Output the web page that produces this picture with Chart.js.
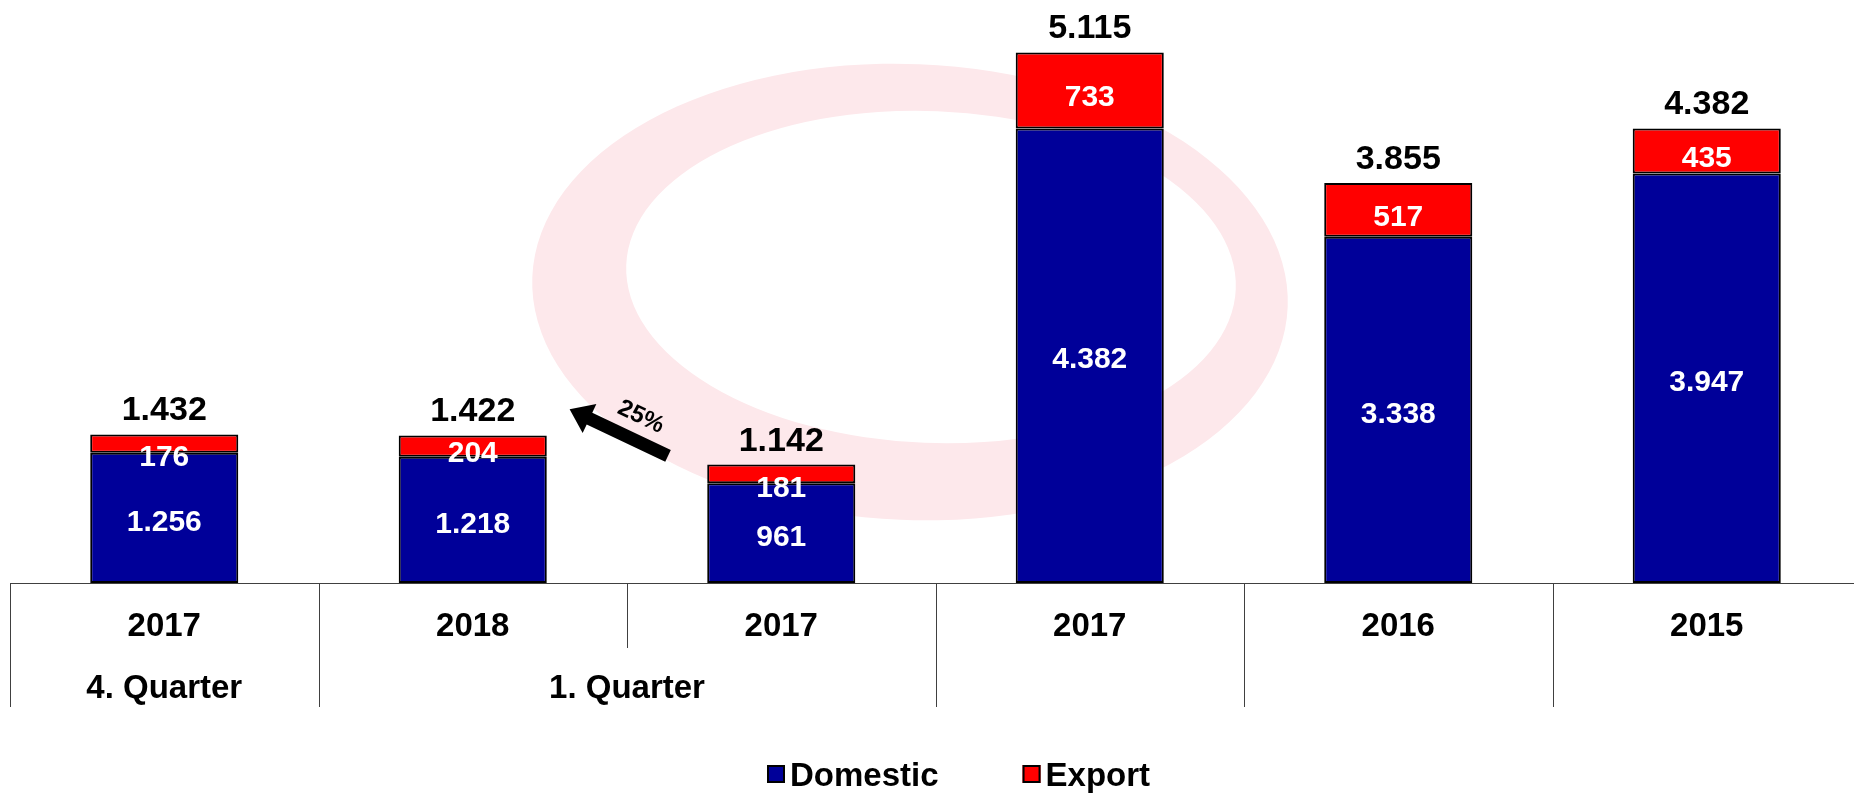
<!DOCTYPE html>
<html>
<head>
<meta charset="utf-8">
<script src="https://cdn.jsdelivr.net/npm/chart.js@4/dist/chart.umd.min.js"></script>
<style>
  html, body { margin: 0; padding: 0; background: #ffffff; overflow: hidden; }
  canvas { display: block; }
</style>
</head>
<body>
<canvas id="c" width="1862" height="793"></canvas>
<script>
// ---- data ----
const categories = ['2017', '2018', '2017', '2017', '2016', '2015'];
const quarterLabels = ['4. Quarter', '1. Quarter'];
const quarterFrom = [0, 1];
const quarterTo = [0, 2];
const domestic = [1256, 1218, 961, 4382, 3338, 3947];
const exportVals = [176, 204, 181, 733, 517, 435];
const seriesNames = ['Domestic', 'Export'];
const changeLabel = '25%';

const FONT = '"Liberation Sans", Arial, Helvetica, sans-serif';
const BLUE = '#000099';
const RED = '#ff0000';

function fmt(v) {
  return String(v).replace(/\B(?=(\d{3})+(?!\d))/g, '.');
}

const watermark = {
  id: 'watermark',
  beforeDatasetsDraw(chart) {
    const ctx = chart.ctx;
    ctx.save();
    ctx.fillStyle = '#fde8eb';
    ctx.beginPath();
    ctx.ellipse(910, 292, 378, 228, 0.04, 0, Math.PI * 2);
    ctx.ellipse(931, 277, 305, 166, 0.04, 0, Math.PI * 2);
    ctx.fill('evenodd');
    ctx.restore();
  }
};

const labels = {
  id: 'labels',
  afterDatasetsDraw(chart) {
    const ctx = chart.ctx;
    const ys = chart.scales.y;
    ctx.save();
    ctx.textAlign = 'center';
    ctx.textBaseline = 'alphabetic';
    const metaD = chart.getDatasetMeta(0);
    const metaE = chart.getDatasetMeta(1);
    // inner labels
    ctx.fillStyle = '#ffffff';
    ctx.font = 'bold 30px ' + FONT;
    const cap = 30 * 0.358;
    metaD.data.forEach((bar, i) => {
      const cy = (bar.y + bar.base) / 2 + 2;
      ctx.fillText(fmt(domestic[i]), bar.x, cy + cap);
    });
    metaE.data.forEach((bar, i) => {
      const h = bar.base - bar.y;
      const cy = (bar.y + bar.base) / 2 + (h < 20 ? 12 : 5);
      ctx.fillText(fmt(exportVals[i]), bar.x, cy + cap);
    });
    // totals
    ctx.fillStyle = '#000000';
    ctx.font = 'bold 34px ' + FONT;
    metaE.data.forEach((bar, i) => {
      const total = domestic[i] + exportVals[i];
      const top = ys.getPixelForValue(total);
      ctx.fillText(fmt(total), bar.x, top - 14);
    });
    ctx.restore();
  }
};

const table = {
  id: 'table',
  afterDraw(chart) {
    const ctx = chart.ctx;
    const area = chart.chartArea;
    const xs = chart.scales.x;
    const ys = chart.scales.y;
    const n = categories.length;
    const catW = (area.right - area.left) / n;
    const b = area.bottom;
    ctx.save();
    // axis line
    ctx.strokeStyle = '#404040';
    ctx.lineWidth = 1;
    ctx.beginPath();
    ctx.moveTo(area.left, b + 0.5);
    ctx.lineTo(chart.width, b + 0.5);
    ctx.stroke();
    // vertical separators
    for (let i = 0; i < n; i++) {
      const x = Math.round(area.left + i * catW) + 0.5;
      let inside = false;
      for (let g = 0; g < quarterLabels.length; g++) {
        if (i > quarterFrom[g] && i <= quarterTo[g]) inside = true;
      }
      ctx.beginPath();
      ctx.moveTo(x, b);
      ctx.lineTo(x, b + (inside ? 65 : 124));
      ctx.stroke();
    }
    // year row
    ctx.fillStyle = '#000000';
    ctx.textAlign = 'center';
    ctx.textBaseline = 'alphabetic';
    ctx.font = 'bold 33px ' + FONT;
    categories.forEach((c, i) => {
      ctx.fillText(c, xs.getPixelForValue(i), b + 53);
    });
    // quarter row
    quarterLabels.forEach((q, g) => {
      const x = (xs.getPixelForValue(quarterFrom[g]) + xs.getPixelForValue(quarterTo[g])) / 2;
      ctx.fillText(q, x, b + 115);
    });

    // change arrow between 1. Quarter 2018 and 2017
    const x1 = xs.getPixelForValue(1), x2 = xs.getPixelForValue(2);
    const tip = { x: x1 + (x2 - x1) * 0.314, y: ys.getPixelForValue(1676) };
    const tail = { x: x1 + (x2 - x1) * 0.633, y: ys.getPixelForValue(1226) };
    const ang = Math.atan2(tip.y - tail.y, tip.x - tail.x);
    const len = Math.hypot(tip.x - tail.x, tip.y - tail.y);
    ctx.save();
    ctx.translate(tail.x, tail.y);
    ctx.rotate(ang);
    const headL = 22, headW = 32, shaftW = 13;
    ctx.fillStyle = '#000000';
    ctx.beginPath();
    ctx.moveTo(0, -shaftW / 2);
    ctx.lineTo(len - headL, -shaftW / 2);
    ctx.lineTo(len - headL, -headW / 2);
    ctx.lineTo(len, 0);
    ctx.lineTo(len - headL, headW / 2);
    ctx.lineTo(len - headL, shaftW / 2);
    ctx.lineTo(0, shaftW / 2);
    ctx.closePath();
    ctx.fill();
    ctx.restore();
    // arrow label
    ctx.save();
    ctx.translate(x1 + (x2 - x1) * 0.545, ys.getPixelForValue(1600));
    ctx.rotate(ang + Math.PI);
    ctx.font = 'bold 24px ' + FONT;
    ctx.textAlign = 'center';
    ctx.textBaseline = 'middle';
    ctx.fillText(changeLabel, 0, 0);
    ctx.restore();

    // legend
    ctx.font = 'bold 33px ' + FONT;
    ctx.textAlign = 'left';
    ctx.textBaseline = 'alphabetic';
    let lx = 767;
    const ly = 765;
    chart.data.datasets.forEach((ds) => {
      ctx.fillStyle = ds.backgroundColor;
      ctx.fillRect(lx, ly, 18, 18);
      ctx.strokeStyle = '#000000';
      ctx.lineWidth = 2;
      ctx.strokeRect(lx + 1, ly + 1, 16, 16);
      ctx.fillStyle = '#000000';
      ctx.fillText(ds.label, lx + 23, ly + 21);
      lx += 23 + ctx.measureText(ds.label).width + 84;
    });
    ctx.restore();
  }
};

new Chart(document.getElementById('c'), {
  type: 'bar',
  data: {
    labels: categories,
    datasets: [
      { label: seriesNames[0], data: domestic, backgroundColor: BLUE, borderColor: '#000000', borderWidth: 2, borderSkipped: false },
      { label: seriesNames[1], data: exportVals, backgroundColor: RED, borderColor: '#000000', borderWidth: 2, borderSkipped: false }
    ]
  },
  options: {
    responsive: false,
    animation: false,
    devicePixelRatio: 1,
    layout: { padding: { left: 10, right: 1, top: 0, bottom: 210 } },
    datasets: { bar: { barPercentage: 0.48, categoryPercentage: 1 } },
    scales: {
      x: { stacked: true, display: false },
      y: { stacked: true, display: false, min: 0, max: 5620 }
    },
    plugins: {
      legend: { display: false },
      tooltip: { enabled: false }
    }
  },
  plugins: [watermark, labels, table]
});
</script>
</body>
</html>
